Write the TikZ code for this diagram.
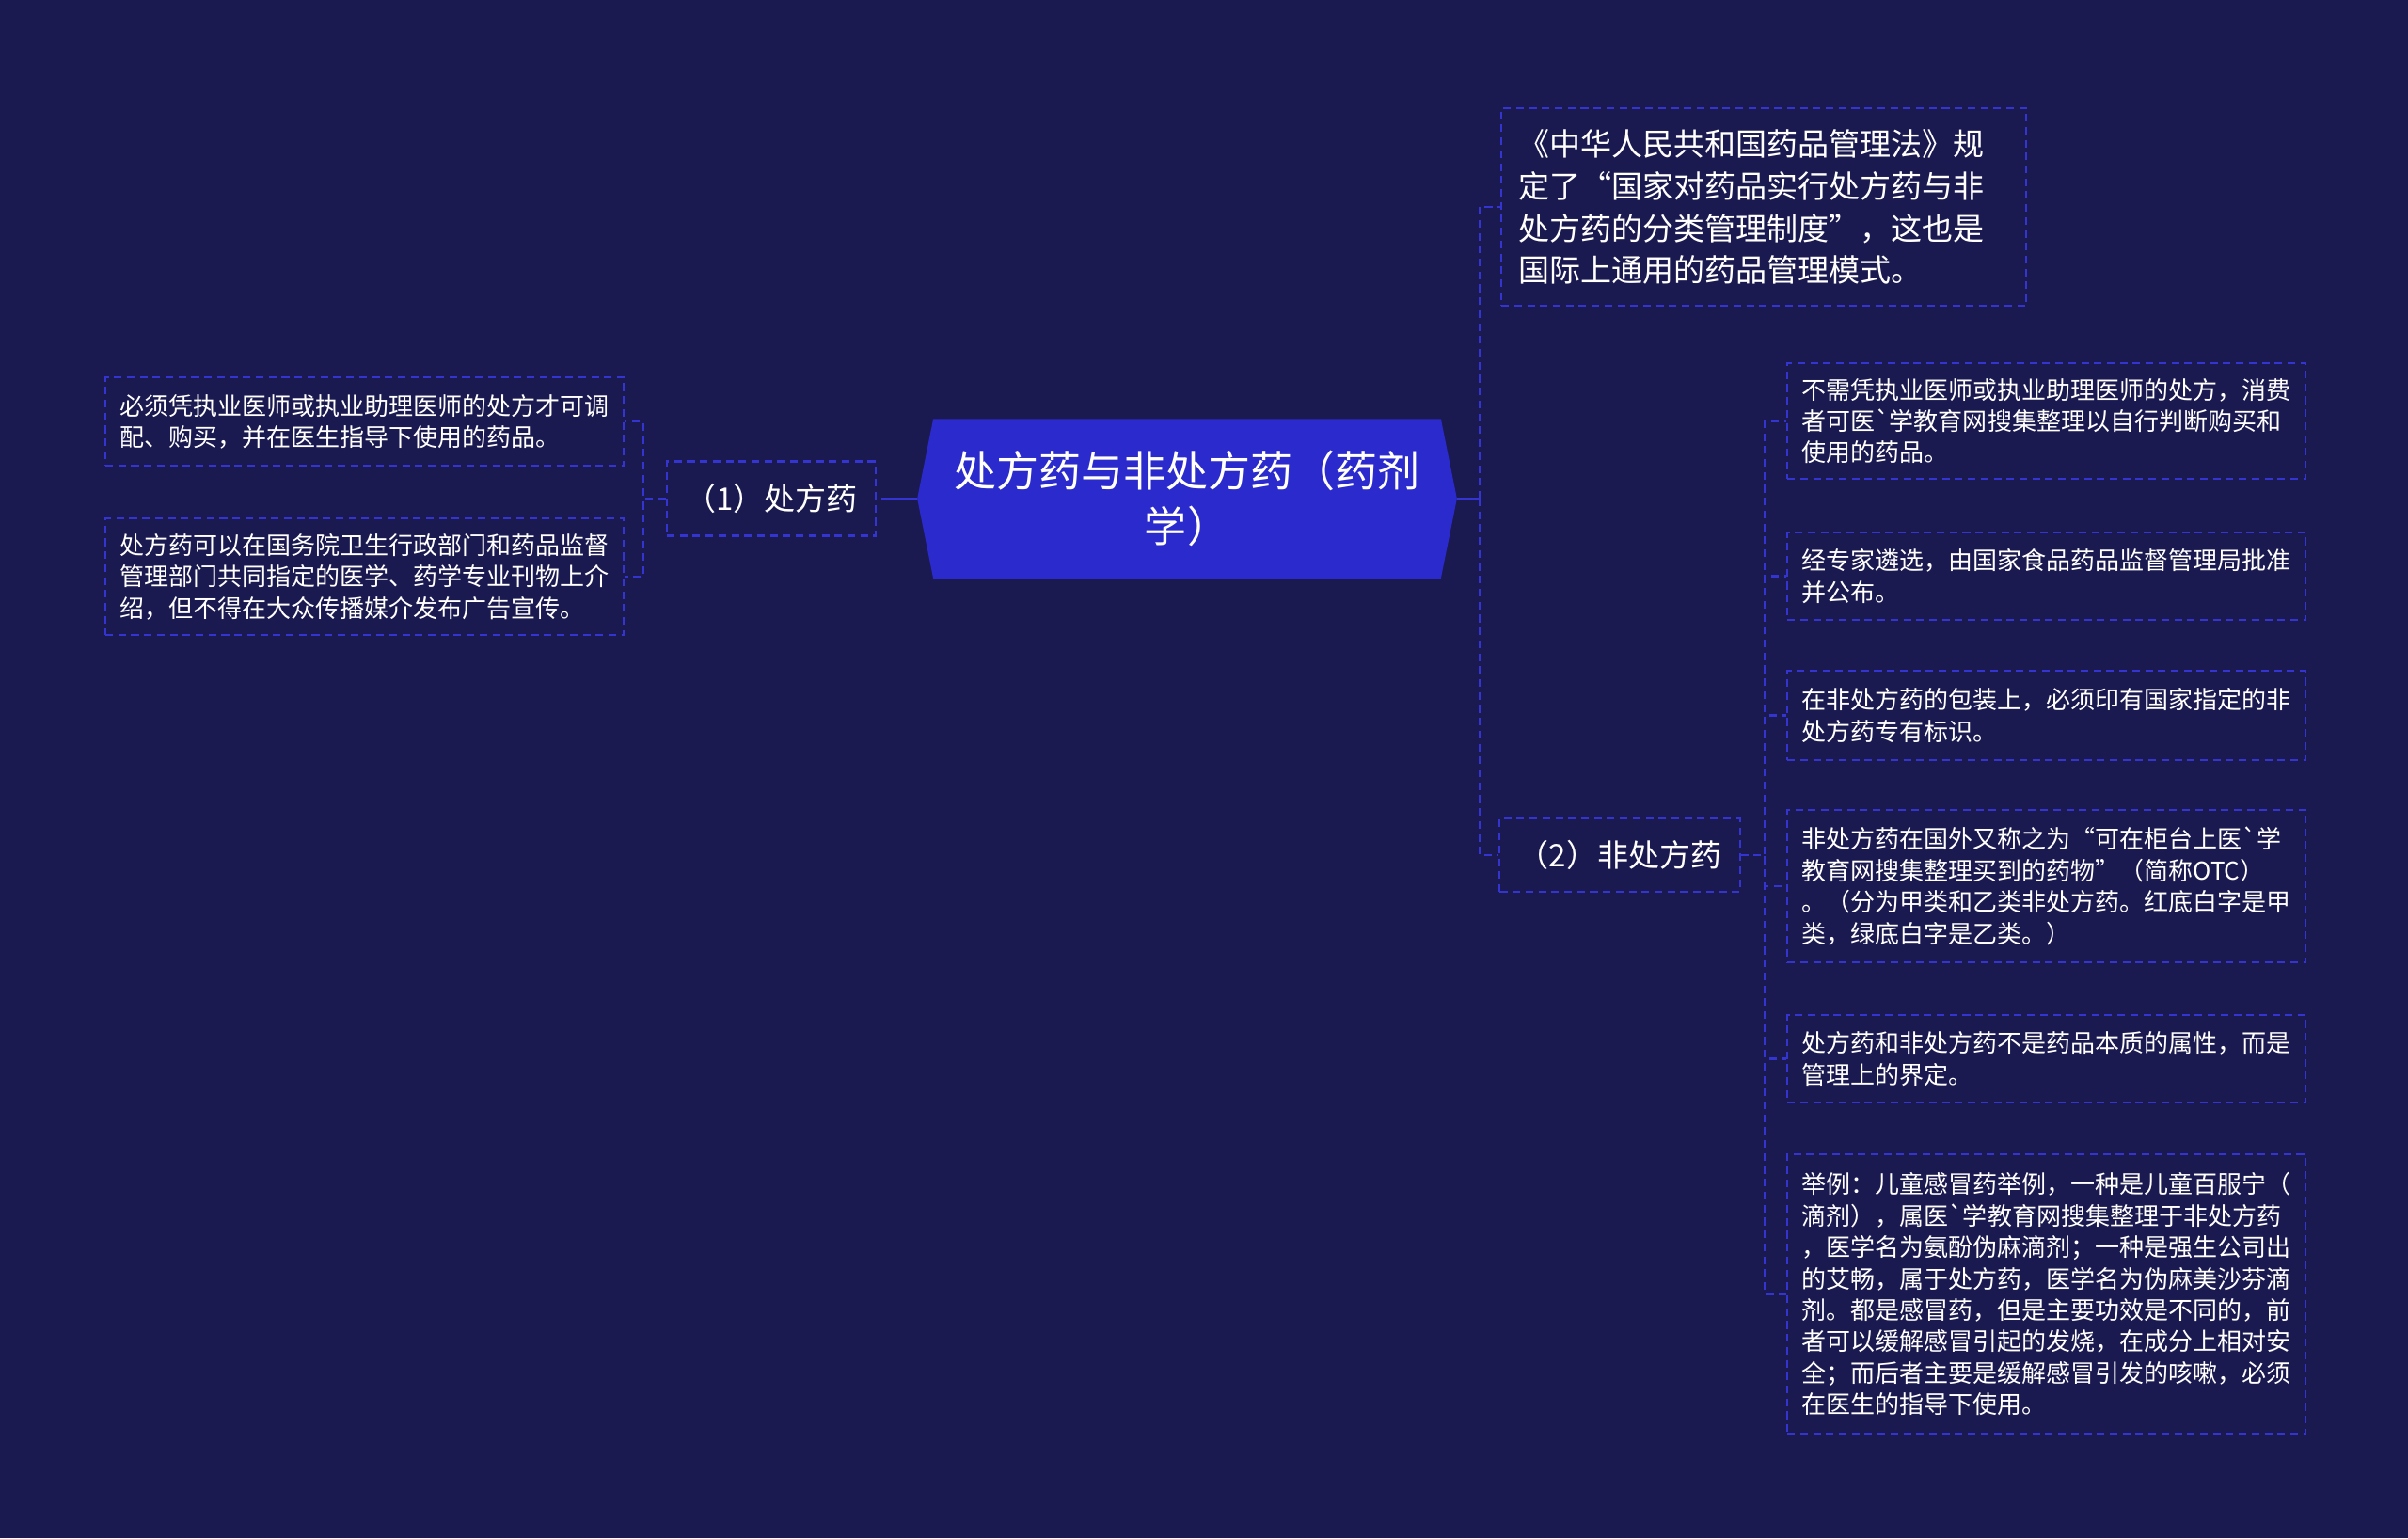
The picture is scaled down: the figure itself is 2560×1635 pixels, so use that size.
\documentclass[tikz,border=0pt]{standalone}
\usepackage{fontspec}
\newfontfamily\cjk{Noto Sans CJK SC}
\usetikzlibrary{calc,backgrounds}

\definecolor{bgnavy}{RGB}{27,26,80}
\definecolor{rootblue}{RGB}{43,42,204}
\definecolor{dashblue}{RGB}{52,52,208}

\newcommand\leaffont{\cjk\fontsize{7.4pt}{9.5pt}\selectfont}
\newcommand\midfont{\cjk\fontsize{9.4pt}{12.7pt}\selectfont}
\newcommand\rootfont{\cjk\fontsize{12.8pt}{16.8pt}\selectfont}

\tikzset{
  rootbox/.style={text=white, align=center, font=\rootfont, minimum width=5.38cm, minimum height=1.68cm, inner sep=0pt},
  midbox/.style={draw=dashblue, line width=0.6pt, dash pattern=on 2.3pt off 1.6pt, text=white, align=center, font=\midfont, inner sep=0pt},
  leafbox/.style={draw=dashblue, line width=0.6pt, dash pattern=on 2.3pt off 1.6pt, text=white, align=left, font=\leaffont, anchor=north west, text width=5.21cm, inner xsep=0.15cm, inner ysep=0.04cm},
  link/.style={draw=dashblue, line width=0.75pt, dash pattern=on 2.3pt off 1.6pt},
  stub/.style={draw=dashblue, line width=0.85pt}
}

\begin{document}
\begin{tikzpicture}[x=0.01cm, y=-0.01cm]
  % Marco
  \useasboundingbox (0,0) rectangle (2560,1635);

  % Nodo central
  \node[rootbox] (root) at (1262,530) {处方药与非处方药（药剂\\学）};
  \coordinate (ltip) at ($(root.west)+(-17,0)$);
  \coordinate (rtip) at ($(root.east)+(17,0)$);
  \begin{scope}[on background layer]
    \fill[bgnavy] (0,0) rectangle (2560,1635);
    \fill[rootblue] (root.north west) -- (root.north east) -- (rtip) -- (root.south east) -- (root.south west) -- (ltip) -- cycle;
  \end{scope}

  % Rama izquierda: (1) 处方药
  \node[midbox, minimum width=2.22cm, minimum height=0.79cm] (pre) at (820,530) {（1）处方药};
  \node[leafbox, minimum height=0.94cm] (pre1) at (111,400) {必须凭执业医师或执业助理医师的处方才可调\\配、购买，并在医生指导下使用的药品。};
  \node[leafbox, minimum height=1.24cm] (pre2) at (111,550) {处方药可以在国务院卫生行政部门和药品监督\\管理部门共同指定的医学、药学专业刊物上介\\绍，但不得在大众传播媒介发布广告宣传。};

  % Rama derecha: ley y (2) 非处方药
  \node[leafbox, font=\midfont, text width=5.22cm, inner xsep=0.18cm, minimum height=2.10cm] (law) at (1595,114) {《中华人民共和国药品管理法》规\\定了“国家对药品实行处方药与非\\处方药的分类管理制度”，这也是\\国际上通用的药品管理模式。};
  \node[midbox, minimum width=2.55cm, minimum height=0.78cm] (otc) at (1722,909) {（2）非处方药};

  % Hojas de (2)
  \node[leafbox, minimum height=1.23cm] (otc1) at (1899,385) {不需凭执业医师或执业助理医师的处方，消费\\者可医`学教育网搜集整理以自行判断购买和\\使用的药品。};
  \node[leafbox, minimum height=0.93cm] (otc2) at (1899,565) {经专家遴选，由国家食品药品监督管理局批准\\并公布。};
  \node[leafbox, minimum height=0.95cm] (otc3) at (1899,712) {在非处方药的包装上，必须印有国家指定的非\\处方药专有标识。};
  \node[leafbox, minimum height=1.62cm] (otc4) at (1899,860) {非处方药在国外又称之为“可在柜台上医`学\\教育网搜集整理买到的药物”（简称OTC）\\。（分为甲类和乙类非处方药。红底白字是甲\\类，绿底白字是乙类。）};
  \node[leafbox, minimum height=0.93cm] (otc5) at (1899,1078) {处方药和非处方药不是药品本质的属性，而是\\管理上的界定。};
  \node[leafbox, minimum height=2.97cm] (otc6) at (1899,1226) {举例：儿童感冒药举例，一种是儿童百服宁（\\滴剂），属医`学教育网搜集整理于非处方药\\，医学名为氨酚伪麻滴剂；一种是强生公司出\\的艾畅，属于处方药，医学名为伪麻美沙芬滴\\剂。都是感冒药，但是主要功效是不同的，前\\者可以缓解感冒引起的发烧，在成分上相对安\\全；而后者主要是缓解感冒引发的咳嗽，必须\\在医生的指导下使用。};

  % Conectores izquierda
  \draw[stub] (ltip) -- ++(-30,0) coordinate (lj);
  \draw[link] (lj) -- (pre.east);
  \foreach \n in {pre1,pre2}
    \draw[link] (pre.west) -- ++(-24,0) |- (\n.east);

  % Conectores derecha
  \draw[stub] (rtip) -- ++(24,0) coordinate (rj);
  \foreach \n in {law,otc}
    \draw[link] (rj) |- (\n.west);
  \foreach \i in {1,...,6}
    \draw[link] (otc.east) -- ++(26,0) |- (otc\i.west);
\end{tikzpicture}
\end{document}
